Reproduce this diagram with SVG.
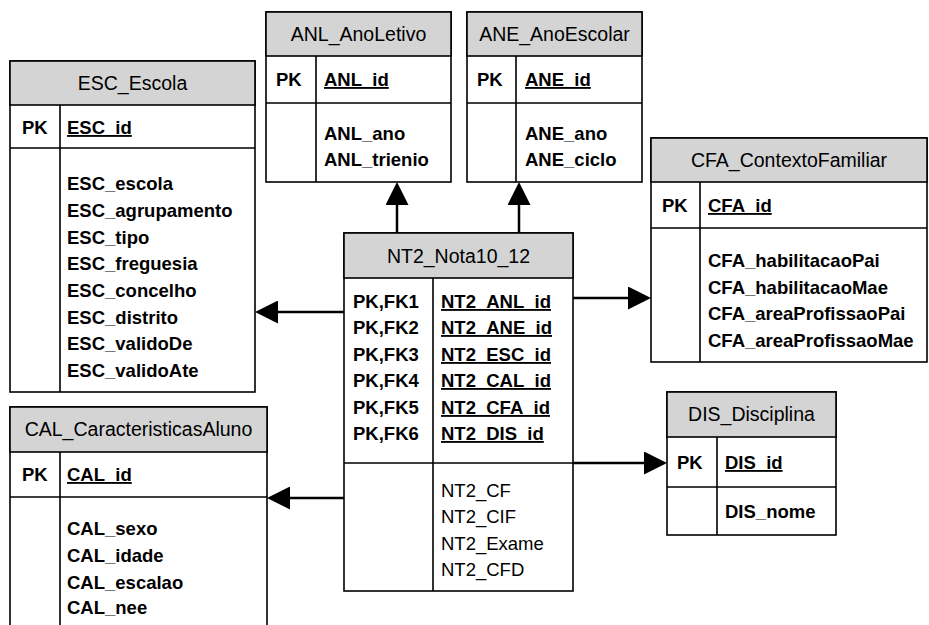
<svg xmlns="http://www.w3.org/2000/svg" width="929" height="625" viewBox="0 0 929 625">
<style>
.box{fill:#fff;stroke:#000;stroke-width:1.6}
.hdr{fill:#d4d4d4;stroke:#000;stroke-width:1.6}
.ln{stroke:#000;stroke-width:1.6;fill:none}
.t{font-family:"Liberation Sans",Arial,sans-serif;font-size:19.5px;fill:#000;text-anchor:middle}
.b{font-family:"Liberation Sans",Arial,sans-serif;font-size:18.5px;font-weight:bold;fill:#000}
.r{font-family:"Liberation Sans",Arial,sans-serif;font-size:18.5px;fill:#000}
.u{text-decoration:underline}
.c{stroke:#000;stroke-width:2.5;fill:none}
</style>
<defs>
<marker id="ah" markerUnits="userSpaceOnUse" viewBox="0 0 23 23" markerWidth="23" markerHeight="23" refX="1" refY="11.5" orient="auto">
<path d="M0,0 L23,11.5 L0,23 Z" fill="#000"/>
</marker>
</defs>
<g id="connectors">
<path class="c" d="M397,233 V204" marker-end="url(#ah)"/>
<path class="c" d="M519,233 V204" marker-end="url(#ah)"/>
<path class="c" d="M344,312 H277" marker-end="url(#ah)"/>
<path class="c" d="M573,298 H629" marker-end="url(#ah)"/>
<path class="c" d="M344,498 H289" marker-end="url(#ah)"/>
<path class="c" d="M573,463 H645" marker-end="url(#ah)"/>
</g>
<g id="ESC_Escola">
<rect class="box" x="10" y="61" width="245" height="331"/>
<rect class="hdr" x="10" y="61" width="245" height="44"/>
<path class="ln" d="M10,148 H255 M60,105 V392"/>
<text class="t" x="132.5" y="90">ESC_Escola</text>
<text class="b" x="22" y="134">PK</text>
<text class="b u" x="67" y="134">ESC_id</text>
<text class="b" x="67" y="190">ESC_escola</text>
<text class="b" x="67" y="217">ESC_agrupamento</text>
<text class="b" x="67" y="244">ESC_tipo</text>
<text class="b" x="67" y="270">ESC_freguesia</text>
<text class="b" x="67" y="297">ESC_concelho</text>
<text class="b" x="67" y="324">ESC_distrito</text>
<text class="b" x="67" y="350">ESC_validoDe</text>
<text class="b" x="67" y="377">ESC_validoAte</text>
</g>
<g id="ANL_AnoLetivo">
<rect class="box" x="266" y="12" width="185" height="170"/>
<rect class="hdr" x="266" y="12" width="185" height="44"/>
<path class="ln" d="M266,103 H451 M316,56 V182"/>
<text class="t" x="358.5" y="41">ANL_AnoLetivo</text>
<text class="b" x="276" y="86">PK</text>
<text class="b u" x="324" y="86">ANL_id</text>
<text class="b" x="324" y="140">ANL_ano</text>
<text class="b" x="324" y="166">ANL_trienio</text>
</g>
<g id="ANE_AnoEscolar">
<rect class="box" x="467" y="12" width="175" height="170"/>
<rect class="hdr" x="467" y="12" width="175" height="44"/>
<path class="ln" d="M467,103 H642 M516,56 V182"/>
<text class="t" x="554.5" y="41">ANE_AnoEscolar</text>
<text class="b" x="477" y="86">PK</text>
<text class="b u" x="525" y="86">ANE_id</text>
<text class="b" x="525" y="140">ANE_ano</text>
<text class="b" x="525" y="166">ANE_ciclo</text>
</g>
<g id="CFA_ContextoFamiliar">
<rect class="box" x="651" y="138" width="276" height="224"/>
<rect class="hdr" x="651" y="138" width="276" height="44"/>
<path class="ln" d="M651,228 H927 M700,182 V362"/>
<text class="t" x="789" y="167">CFA_ContextoFamiliar</text>
<text class="b" x="662" y="212">PK</text>
<text class="b u" x="708" y="212">CFA_id</text>
<text class="b" x="708" y="267">CFA_habilitacaoPai</text>
<text class="b" x="708" y="294">CFA_habilitacaoMae</text>
<text class="b" x="708" y="320">CFA_areaProfissaoPai</text>
<text class="b" x="708" y="347">CFA_areaProfissaoMae</text>
</g>
<g id="NT2_Nota10_12">
<rect class="box" x="344" y="233" width="229" height="358"/>
<rect class="hdr" x="344" y="233" width="229" height="45"/>
<path class="ln" d="M344,463 H573 M433,278 V591"/>
<text class="t" x="458.5" y="263">NT2_Nota10_12</text>
<text class="b" x="353" y="308">PK,FK1</text>
<text class="b" x="353" y="334">PK,FK2</text>
<text class="b" x="353" y="361">PK,FK3</text>
<text class="b" x="353" y="387">PK,FK4</text>
<text class="b" x="353" y="414">PK,FK5</text>
<text class="b" x="353" y="440">PK,FK6</text>
<text class="b u" x="441" y="308">NT2_ANL_id</text>
<text class="b u" x="441" y="334">NT2_ANE_id</text>
<text class="b u" x="441" y="361">NT2_ESC_id</text>
<text class="b u" x="441" y="387">NT2_CAL_id</text>
<text class="b u" x="441" y="414">NT2_CFA_id</text>
<text class="b u" x="441" y="440">NT2_DIS_id</text>
<text class="r" x="441" y="497">NT2_CF</text>
<text class="r" x="441" y="523">NT2_CIF</text>
<text class="r" x="441" y="550">NT2_Exame</text>
<text class="r" x="441" y="576">NT2_CFD</text>
</g>
<g id="CAL_CaracteristicasAluno">
<rect class="box" x="10" y="407" width="257" height="230"/>
<rect class="hdr" x="10" y="407" width="257" height="45"/>
<path class="ln" d="M10,497 H267 M60,452 V637"/>
<text class="t" x="138.5" y="436">CAL_CaracteristicasAluno</text>
<text class="b" x="22" y="481">PK</text>
<text class="b u" x="67" y="481">CAL_id</text>
<text class="b" x="67" y="535">CAL_sexo</text>
<text class="b" x="67" y="562">CAL_idade</text>
<text class="b" x="67" y="589">CAL_escalao</text>
<text class="b" x="67" y="614">CAL_nee</text>
</g>
<g id="DIS_Disciplina">
<rect class="box" x="667" y="392" width="169" height="143"/>
<rect class="hdr" x="667" y="392" width="169" height="45"/>
<path class="ln" d="M667,487 H836 M717,437 V535"/>
<text class="t" x="751.5" y="421">DIS_Disciplina</text>
<text class="b" x="677" y="469">PK</text>
<text class="b u" x="725" y="469">DIS_id</text>
<text class="b" x="725" y="518">DIS_nome</text>
</g>
</svg>
